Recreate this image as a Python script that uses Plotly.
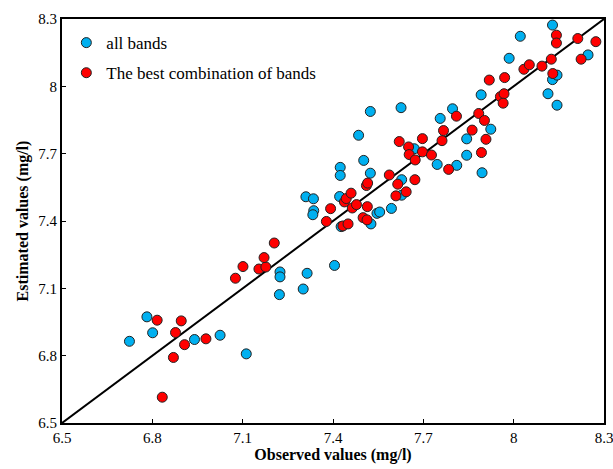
import plotly.graph_objects as go

# ---- data ----
blue_obs = [6.724, 6.782, 6.801, 6.940, 7.025, 7.112, 7.224, 7.224, 7.314, 7.301,
            7.222, 7.405, 7.310, 7.335, 7.422, 7.336, 7.333, 7.427, 7.424, 7.424,
            7.485, 7.502, 7.524, 7.524, 7.526, 7.546, 7.555, 7.594, 7.628, 7.628,
            7.626, 7.670, 7.746, 7.756, 7.797, 7.811, 7.844, 7.844, 7.895, 7.892,
            7.924, 7.985, 8.022, 8.114, 8.129, 8.144, 8.144, 8.129, 8.247]
blue_est = [6.864, 6.973, 6.902, 6.872, 6.891, 6.808, 7.173, 7.151, 7.167, 7.097,
            7.072, 7.202, 7.508, 7.499, 7.509, 7.446, 7.428, 7.375, 7.639, 7.603,
            7.782, 7.670, 7.888, 7.613, 7.387, 7.434, 7.440, 7.456, 7.584, 7.515,
            7.905, 7.722, 7.652, 7.857, 7.900, 7.648, 7.766, 7.693, 7.615, 7.962,
            7.809, 8.125, 8.223, 7.967, 8.030, 8.050, 7.916, 8.273, 8.140]

red_obs = [6.833, 6.870, 6.877, 6.816, 6.896, 6.907, 6.978, 7.076, 7.101, 7.154,
           7.177, 7.171, 7.205, 7.378, 7.392, 7.433, 7.450, 7.438, 7.444, 7.460,
           7.464, 7.478, 7.500, 7.513, 7.514, 7.511, 7.515, 7.587, 7.609, 7.615,
           7.643, 7.620, 7.651, 7.653, 7.673, 7.672, 7.697, 7.697, 7.727, 7.762,
           7.767, 7.784, 7.810, 7.862, 7.884, 7.903, 7.908, 7.893, 7.919, 7.970,
           7.956, 7.968, 7.965, 8.034, 8.052, 8.094, 8.130, 8.125, 8.142, 8.142,
           8.213, 8.224, 8.273]
red_est = [6.615, 6.792, 6.903, 6.958, 6.955, 6.849, 6.875, 7.145, 7.197, 7.186,
           7.195, 7.237, 7.302, 7.398, 7.455, 7.378, 7.387, 7.485, 7.500, 7.524,
           7.458, 7.473, 7.415, 7.405, 7.464, 7.558, 7.569, 7.605, 7.512, 7.564,
           7.530, 7.754, 7.730, 7.696, 7.672, 7.584, 7.767, 7.708, 7.694, 7.758,
           7.803, 7.630, 7.867, 7.805, 7.879, 7.848, 7.764, 7.705, 8.028, 8.039,
           7.954, 7.967, 7.925, 8.076, 8.096, 8.090, 8.057, 8.121, 8.228, 8.193,
           8.213, 8.121, 8.199]

line_xy = [6.5, 8.3]
tick_vals = [6.5, 6.8, 7.1, 7.4, 7.7, 8.0, 8.3]
tick_text = ["6.5", "6.8", "7.1", "7.4", "7.7", "8", "8.3"]

FONT = "Liberation Serif"

fig = go.Figure()
fig.add_trace(go.Scatter(x=line_xy, y=line_xy, mode="lines",
                         line=dict(color="black", width=2),
                         showlegend=False, hoverinfo="skip"))
fig.add_trace(go.Scatter(x=blue_obs, y=blue_est, mode="markers", name="all bands",
                         legendgroup="a",
                         marker=dict(color="#00B0F0", size=10,
                                     line=dict(color="#222222", width=1))))
fig.add_trace(go.Scatter(x=red_obs, y=red_est, mode="markers",
                         name="The best combination of bands", legendgroup="b",
                         marker=dict(color="#FF0000", size=10,
                                     line=dict(color="#222222", width=1))))

axis_common = dict(
    range=[6.5, 8.3], tickvals=tick_vals, ticktext=tick_text,
    ticks="inside", ticklen=4, tickwidth=1, tickcolor="black",
    showline=True, linecolor="black", linewidth=2, mirror=True,
    showgrid=False, zeroline=False, automargin=False,
    ticklabeloverflow="allow",
    tickfont=dict(family=FONT, size=15, color="black"),
)

fig.update_layout(
    width=613, height=469,
    margin=dict(l=62, r=9, t=19, b=46),
    paper_bgcolor="white", plot_bgcolor="white",
    xaxis=dict(**axis_common,
               title=dict(text="<b>Observed values (mg/l)</b>",
                          font=dict(family=FONT, size=16, color="black"),
                          standoff=4)),
    yaxis=dict(**axis_common,
               title=dict(text="<b>Estimated values (mg/l)</b>",
                          font=dict(family=FONT, size=16, color="black"),
                          standoff=6)),
    legend=dict(x=0.008, y=0.985, xanchor="left", yanchor="top",
                bgcolor="rgba(0,0,0,0)", borderwidth=0,
                font=dict(family=FONT, size=17, color="black"),
                tracegroupgap=5, itemwidth=30),
    showlegend=True,
)

fig.write_html("out.html")
